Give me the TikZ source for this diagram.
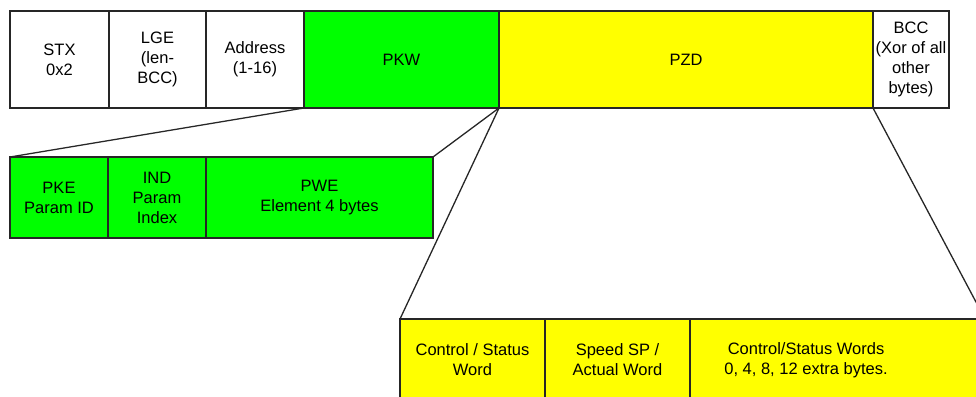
\documentclass[tikz,border=0pt]{standalone}
\usepackage{fontspec}
\setmainfont{Liberation Sans}
\usepackage{tikz}
\usetikzlibrary{positioning}
\definecolor{pkwgreen}{RGB}{0,255,0}
\definecolor{pzdyellow}{RGB}{255,255,0}
\tikzset{
  field/.style={draw=black!85, line width=1.1pt, inner sep=0pt, outer sep=0pt,
    align=center, anchor=north west, font=\fontsize{16.5}{20}\selectfont},
  toprow/.style={field, minimum height=97pt},
  midrow/.style={field, fill=pkwgreen, minimum height=81pt},
  botrow/.style={field, fill=pzdyellow, minimum height=82pt},
  link/.style={draw=black!85, line width=1.3pt}
}

\begin{document}
\begin{tikzpicture}[x=1pt, y=-1pt]
  \useasboundingbox (0,0) rectangle (976,396);
  \clip (0,0) rectangle (976,396);

  \node[toprow, minimum width=99pt] (stx) at (10,11) {STX\\0x2};
  \node[toprow, minimum width=97pt, right=0pt of stx] (lge) {LGE\\(len-\\BCC)};
  \node[toprow, minimum width=98pt, right=0pt of lge] (adr) {Address\\(1-16)};
  \node[toprow, minimum width=195pt, fill=pkwgreen, right=0pt of adr] (pkw) {PKW};
  \node[toprow, minimum width=374pt, fill=pzdyellow, right=0pt of pkw] (pzd) {PZD};
  \node[toprow, minimum width=76pt, right=0pt of pzd] (bcc) {BCC\\(Xor of all\\other\\bytes)};

  \node[midrow, minimum width=98pt] (pke) at (10,157) {PKE\\Param ID};
  \node[midrow, minimum width=98pt, right=0pt of pke] (ind) {IND\\Param\\Index};
  \node[midrow, minimum width=227pt, right=0pt of ind] (pwe) {PWE\\Element 4 bytes};

  \node[botrow, minimum width=145pt] (ctl) at (400,319) {Control / Status\\Word};
  \node[botrow, minimum width=145pt, right=0pt of ctl] (spd) {Speed SP /\\Actual Word};
  \node[botrow, minimum width=295pt, right=0pt of spd] (csw)
    {\begin{tabular}{@{}c@{}}Control/Status Words\\0, 4, 8, 12 extra bytes.\end{tabular}\hspace*{63pt}};

  \draw[link] (adr.south east) -- (pke.north west);
  \draw[link] (pkw.south east) -- (pwe.north east);
  \draw[link] (pzd.south west) -- (ctl.north west);
  \draw[link] (bcc.south west) -- (csw.north east);
\end{tikzpicture}
\end{document}
